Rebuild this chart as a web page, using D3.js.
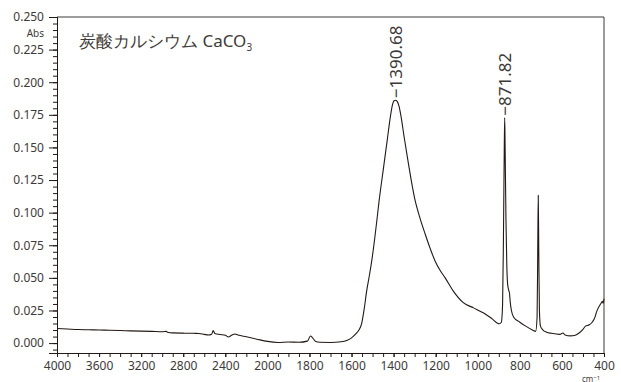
<!DOCTYPE html>
<html>
<head>
<meta charset="utf-8">
<script src="https://cdn.jsdelivr.net/npm/d3@7"></script>
<style>
  html, body { margin: 0; padding: 0; background: #fff; }
  svg { display: block; }
  text { font-family: "Noto Sans", "Open Sans", sans-serif; fill: #3e3a39; }
</style>
</head>
<body>
<svg id="chart" width="621" height="382"></svg>
<script>
// ====== DATA ======
const title = '炭酸カルシウム CaCO';
const yUnit = 'Abs';
const xUnit = 'cm';

// wavenumber (cm-1) / absorbance
const wavenumber = [
  4000, 3900, 3800, 3700, 3600, 3500, 3400, 3300, 3200, 3100, 3000, 2960, 2950, 2900,
  2800, 2700, 2650, 2600, 2560, 2530, 2515, 2500, 2450, 2400, 2370, 2340, 2310, 2280,
  2200, 2100, 2000, 1950, 1900, 1850, 1810, 1795, 1785, 1770, 1750, 1700, 1650, 1620,
  1600, 1580, 1565, 1552, 1540, 1528, 1515, 1504, 1490, 1480, 1469, 1450, 1430, 1415,
  1405, 1398, 1391, 1384, 1375, 1365, 1350, 1330, 1300, 1275, 1250, 1225, 1203, 1180,
  1155, 1117, 1069, 1020, 974, 935, 898, 888, 882, 878, 874, 872, 870, 866, 862, 858,
  852, 849, 846, 840, 830, 800, 772, 740, 725, 718, 715, 712.5, 710, 707, 702, 690,
  673, 650, 610, 595, 585, 560, 540, 520, 500, 488, 470, 458, 445, 434, 420, 412, 408, 404, 400
];
const absorbance = [
  0.0112, 0.0108, 0.0104, 0.0102, 0.0100, 0.0098, 0.0096, 0.0094, 0.0092, 0.0090, 0.0087, 0.0090, 0.0083, 0.0078,
  0.0076, 0.0075, 0.0074, 0.0067, 0.0062, 0.0068, 0.0097, 0.0074, 0.0066, 0.0060, 0.0047, 0.0060, 0.0070, 0.0062,
  0.0048, 0.0030, 0.0013, 0.0005, 0.0008, 0.0006, 0.0015, 0.0054, 0.0040, 0.0012, 0.0006, 0.0005, 0.0010, 0.0022,
  0.0040, 0.0070, 0.0100, 0.0150, 0.0260, 0.0400, 0.0520, 0.0630, 0.0800, 0.0936, 0.1090, 0.1320, 0.1560, 0.1740,
  0.1830, 0.1858, 0.1862, 0.1855, 0.1820, 0.1740, 0.1580, 0.1380, 0.1110, 0.0960, 0.0836, 0.0720, 0.0630, 0.0560,
  0.0500, 0.0400, 0.0310, 0.0270, 0.0232, 0.0190, 0.0148, 0.0160, 0.0300, 0.0800, 0.1500, 0.1728, 0.1500, 0.0950, 0.0600, 0.0450,
  0.0400, 0.0380, 0.0320, 0.0250, 0.0200, 0.0160, 0.0130, 0.0100, 0.0090, 0.0200, 0.0700, 0.1133, 0.0700, 0.0250, 0.0130, 0.0100,
  0.0084, 0.0075, 0.0067, 0.0077, 0.0062, 0.0055, 0.0058, 0.0075, 0.0105, 0.0130, 0.0140, 0.0156, 0.0190, 0.0245, 0.0290, 0.0310, 0.0320, 0.0305, 0.0340
];

const xTickValues = [4000, 3600, 3200, 2800, 2400, 2000, 1800, 1600, 1400, 1200, 1000, 800, 600, 400];
const yTickValues = [0.000, 0.025, 0.050, 0.075, 0.100, 0.125, 0.150, 0.175, 0.200, 0.225, 0.250];

const peakLabels = [1390.68, 871.82];
const peakHeights = [0.1862, 0.1728];

// ====== LAYOUT ======
const svg = d3.select('#chart');
const mLeft = 57, mRight = 604, mTop = 17, mBottom = 353;
const lineColor = '#231815';

// split scale: 4000-2000 compressed, 2000-400 expanded
const split = mLeft + (mRight - mLeft) * 5 / 13;
const x = d3.scaleLinear().domain([4000, 2000, 400]).range([mLeft, split, mRight]);
const y = d3.scaleLinear().domain([-0.0076, 0.25]).range([mBottom, mTop]);

// minor ticks
const xMinor = d3.range(4000, 2000, -100).concat(d3.range(2000, 399, -50));
const yMinor = d3.range(-0.005, 0.2501, 0.005);

const g = svg.append('g');

// frame
g.append('path')
  .attr('d', `M${mLeft},${mTop}H${mRight}V${mBottom}`)
  .attr('fill', 'none')
  .attr('stroke', '#3e3a39')
  .attr('stroke-width', 1);

// x axis
const xAxis = g.append('g')
  .attr('transform', `translate(0,${mBottom})`)
  .call(d3.axisBottom(x).tickValues(xMinor).tickSize(4).tickFormat(''));
xAxis.append('g')
  .call(d3.axisBottom(x).tickValues(xTickValues).tickSize(4).tickFormat(d3.format('d')));
xAxis.selectAll('.domain').attr('stroke', lineColor);
xAxis.selectAll('line').attr('stroke', lineColor);
xAxis.selectAll('text')
  .attr('font-size', 12)
  .attr('fill', '#3e3a39')
  .attr('font-family', '"Noto Sans", sans-serif')
  .attr('dy', '0.85em');

// y axis
const yAxis = g.append('g')
  .attr('transform', `translate(${mLeft},0)`)
  .call(d3.axisLeft(y).tickValues(yMinor).tickSize(4).tickFormat(''));
yAxis.append('g')
  .call(d3.axisLeft(y).tickValues(yTickValues).tickSize(8).tickFormat(d3.format('.3f')));
yAxis.selectAll('.domain').attr('stroke', lineColor);
yAxis.selectAll('line').attr('stroke', lineColor);
yAxis.selectAll('text')
  .attr('font-size', 12)
  .attr('fill', '#3e3a39')
  .attr('font-family', '"Noto Sans", sans-serif')
  .attr('x', -13);

// unit labels
g.append('text')
  .attr('x', 44).attr('y', 37)
  .attr('text-anchor', 'end')
  .attr('font-size', 10)
  .text(yUnit);

const cm = g.append('text')
  .attr('x', 582).attr('y', 382)
  .attr('font-size', 8)
  .text(xUnit);
cm.append('tspan').attr('dy', -2).attr('font-size', 6).text('−1');

// title
const t = g.append('text')
  .attr('x', 79).attr('y', 47)
  .attr('font-size', 17)
  .attr('font-family', '"Noto Sans CJK JP", "Noto Sans", sans-serif')
  .text(title);
t.append('tspan').attr('dy', 4).attr('font-size', 10).text('3');

// spectrum
const pts = wavenumber.map((w, i) => [w, absorbance[i]]);
const line = d3.line()
  .x(d => x(d[0]))
  .y(d => y(d[1]))
  .curve(d3.curveMonotoneX);

g.append('path')
  .datum(pts)
  .attr('d', line)
  .attr('fill', 'none')
  .attr('stroke', lineColor)
  .attr('stroke-width', 1.1)
  .attr('stroke-linejoin', 'round');

// peak labels
peakLabels.forEach((p, i) => {
  const px = x(p), py = y(peakHeights[i]) - 2;
  g.append('text')
    .attr('transform', `translate(${px + 6},${py}) rotate(-90)`)
    .attr('font-size', 17)
    .text('−' + p.toFixed(2));
});
</script>
</body>
</html>
